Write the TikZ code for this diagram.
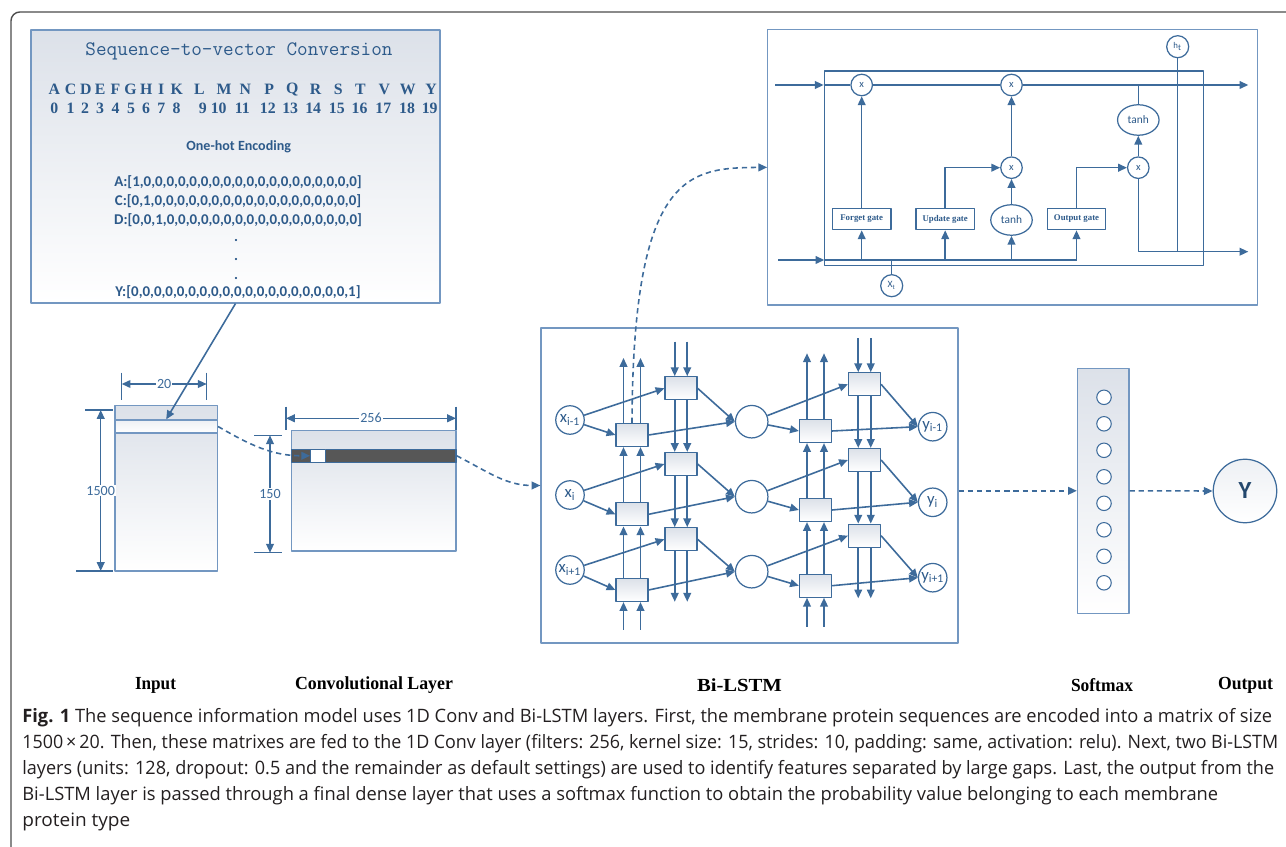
\documentclass[tikz,border=0pt]{standalone}
\usepackage{fontspec}
\setmainfont{Liberation Serif}
\newfontfamily\calfont{Carlito}
\newfontfamily\capfont{Open Sans}
\usetikzlibrary{arrows.meta, positioning, shapes.geometric}

\definecolor{lineblue}{HTML}{3D6B9B}
\definecolor{boxblue}{HTML}{7397C1}
\definecolor{txtblue}{HTML}{2D5A8A}
\definecolor{shadegray}{HTML}{DCE1E9}
\definecolor{capgray}{HTML}{231F20}

\newcommand{\fs}[1]{\fontsize{#1}{#1}\selectfont}
\newcommand{\capline}[2]{\resizebox{#1}{\height}{#2}}

\tikzset{
  wire/.style={draw=lineblue, line width=0.9pt},
  flow/.style={draw=lineblue, line width=0.9pt, dash pattern=on 3pt off 2.2pt},
  dimline/.style={draw=lineblue, line width=0.8pt},
  panel/.style={rectangle, draw=boxblue, line width=0.7pt, inner sep=0pt},
  cellbox/.style={rectangle, draw=lineblue, line width=0.7pt, top color=shadegray, bottom color=white, minimum width=0.64cm, minimum height=0.46cm, inner sep=0pt},
  iocircle/.style={circle, draw=lineblue, line width=0.7pt, fill=white, minimum size=0.57cm, inner sep=0pt, text=txtblue, font=\calfont\fs{9.5}},
  mulnode/.style={circle, draw=lineblue, line width=0.7pt, fill=white, minimum size=0.43cm, inner sep=0pt, text=txtblue, font=\calfont\fs{6}},
  gatebox/.style={rectangle, draw=lineblue, line width=0.7pt, fill=white, minimum width=1.17cm, minimum height=0.43cm, inner sep=0pt, text=txtblue, font=\bfseries\fs{5}},
  tanhnode/.style={ellipse, draw=lineblue, line width=0.7pt, fill=white, minimum width=0.83cm, minimum height=0.61cm, inner sep=0pt, text=txtblue, font=\calfont\fs{6.5}},
  dimlabel/.style={fill=white, inner sep=0.6pt, text=lineblue, font=\calfont\fs{8}},
  aminolabel/.style={inner sep=0pt, text=txtblue, font=\bfseries\fs{9}},
  enctext/.style={inner sep=0pt, text=txtblue, font=\calfont\bfseries\fs{8.5}},
  captext/.style={anchor=base west, inner sep=0pt, text=capgray, font=\capfont\fs{10.5}},
  layerlabel/.style={inner sep=0pt, font=\bfseries\fs{10.5}},
}

\begin{document}
\begin{tikzpicture}[x=0.02cm, y=-0.02cm, >={Triangle[length=5pt,width=4.4pt]}, line join=round]
\useasboundingbox (0,0) rectangle (1286,847);

% Frame
\draw[line width=0.8pt, draw=black!70, rounded corners=5pt] (11,870) -- (11,12) -- (1300,12);

% Sequence-to-vector box
\node[panel, top color=shadegray, bottom color=white, minimum width=8.18cm, minimum height=5.46cm] (seqbox) at (235.5,166.5) {};
\node[inner sep=0pt, text=txtblue, font=\ttfamily\fs{11.7}] (seqtitle) at (239,51.4) {Sequence-to-vector Conversion};
\foreach \lab/\idx/\xa/\xn in {A/0/54.4/54.4, C/1/70.6/70.6, D/2/85.9/85.2, E/3/100.1/100.1,
    F/4/115.4/115.7, G/5/130.6/131, H/6/146.2/146.2, I/7/161.1/161.4, K/8/176.7/176.7,
    L/9/199.4/202.8, M/10/224.1/218.7, N/11/245.4/242.4, P/12/269.2/267.8, Q/13/292.2/290.2,
    R/14/315.6/313.2, S/15/338.3/336.9, T/16/360.3/359.6, V/17/384.3/383.3, W/18/407.7/407,
    Y/19/431.1/429.7}{
  \node[aminolabel] (aa-\idx) at (\xa,89.4) {\lab};
  \node[aminolabel] (num-\idx) at (\xn,108.7) {\idx};
}
\node[enctext, font=\calfont\bfseries\fs{8}] (onehot) at (238.7,147) {One-hot Encoding};
\node[enctext] (encA) at (238,181.8) {A:[1,0,0,0,0,0,0,0,0,0,0,0,0,0,0,0,0,0,0,0]};
\node[enctext] (encC) at (238,201) {C:[0,1,0,0,0,0,0,0,0,0,0,0,0,0,0,0,0,0,0,0]};
\node[enctext] (encD) at (238,220.5) {D:[0,0,1,0,0,0,0,0,0,0,0,0,0,0,0,0,0,0,0,0]};
\foreach \k/\yy in {1/242, 2/261, 3/280}
  \node[enctext, anchor=base] (dot-\k) at (236,\yy) {.};
\node[enctext] (encY) at (238,292.6) {Y:[0,0,0,0,0,0,0,0,0,0,0,0,0,0,0,0,0,0,0,1]};

% Input matrix
\node[panel, top color=shadegray, bottom color=white, minimum width=2.05cm, minimum height=3.31cm] (inmat) at (166.2,488.3) {};
\node[panel, top color=shadegray!50, bottom color=white, minimum width=2.05cm, minimum height=0.26cm] (instrip) at (166.2,426.5) {};
\draw[wire,->] (seqbox.south) -- (instrip.north);

\coordinate (w20l) at (121.7,384);
\coordinate (w20r) at (206.7,384);
\draw[dimline] (121.7,372.7) -- (121.7,400) (206.7,372.7) -- (206.7,400);
\draw[dimline,<->] (w20l) -- node[dimlabel] (lab20) {20} (w20r);
\coordinate (h1500t) at (100.7,410);
\coordinate (h1500b) at (100.7,571);
\draw[dimline] (85,410) -- (112.7,410) (76,571) -- (112.7,571);
\draw[dimline,<->] (h1500t) -- node[dimlabel] (lab1500) {1500} (h1500b);

% Convolutional layer
\node[panel, top color=shadegray, bottom color=white, minimum width=3.29cm, minimum height=2.41cm] (convmat) at (373.85,490.85) {};
\node[rectangle, draw=lineblue, line width=0.7pt, fill=black!66, minimum width=3.29cm, minimum height=0.26cm, inner sep=0pt] (convstrip) at (373.85,455.8) {};
\node[rectangle, draw=lineblue, line width=0.7pt, fill=white, minimum width=0.3cm, minimum height=0.26cm, inner sep=0pt] (convcell) at (318.2,455.8) {};

\coordinate (w256l) at (286,418.3);
\coordinate (w256r) at (456,418.3);
\draw[dimline] (286,406.7) -- (286,430) (456,406.7) -- (456,430);
\draw[dimline,<->] (w256l) -- node[dimlabel] (lab256) {256} (w256r);
\coordinate (h150t) at (270,435.3);
\coordinate (h150b) at (270,552.7);
\draw[dimline] (254.3,435.3) -- (282.3,435.3) (254.3,552.7) -- (282.3,552.7);
\draw[dimline,<->] (h150t) -- node[dimlabel] (lab150) {150} (h150b);

\draw[flow,->] (instrip.east) to[out=-30,in=180] (convcell.west);

% Bi-LSTM
\node[panel, fill=white, minimum width=8.34cm, minimum height=6.3cm] (bilstm) at (749.5,485.5) {};
\draw[flow,->] (convstrip.east) to[out=-27,in=180] (bilstm.west);

\foreach \r/\sub/\yx/\yf/\yb/\ym/\yg/\yh/\yo in {1/i-1/420/435/388.3/421.7/431/384.3/426.7,
    2/i/495/514.3/464/496.7/510/460/502.3, 3/i+1/570/590/539.3/571.7/585.7/535.7/577.7}{
  \node[iocircle] (x-\r) at (570,\yx) {x\textsubscript{\sub}};
  \node[cellbox] (f1-\r) at (632,\yf) {};
  \node[cellbox] (b1-\r) at (681,\yb) {};
  \node[iocircle, minimum size=0.65cm] (m-\r) at (751.7,\ym) {};
  \node[cellbox] (f2-\r) at (815.5,\yg) {};
  \node[cellbox] (b2-\r) at (864.5,\yh) {};
  \node[iocircle] (y-\r) at (932.7,\yo) {y\textsubscript{\sub}};
}
\foreach \r in {1,2,3}{
  \draw[wire,->] (x-\r) -- (b1-\r.west);
  \draw[wire,->] (x-\r) -- (f1-\r.west);
  \draw[wire,->] (f1-\r.east) -- (m-\r.west);
  \draw[wire,->] (b1-\r.east) -- (m-\r.west);
  \draw[wire,->] (m-\r) -- (b2-\r.west);
  \draw[wire,->] (m-\r) -- (f2-\r.west);
  \draw[wire,->] (f2-\r.east) -- (y-\r.west);
  \draw[wire,->] (b2-\r.east) -- (y-\r.west);
}

\coordinate (f1bot) at (632,630);
\coordinate (f1top) at (632,358);
\coordinate (b1top) at (681,341.7);
\coordinate (b1bot) at (681,601.7);
\coordinate (f2bot) at (815.5,626.7);
\coordinate (f2top) at (815.5,353.3);
\coordinate (b2top) at (864.5,338.3);
\coordinate (b2bot) at (864.5,598.3);
\foreach \s in {-0.17cm,0.17cm}{
  \draw[wire,->] ([xshift=\s]f1bot) -- ([xshift=\s]f1-3.south);
  \draw[wire,->] ([xshift=\s]f1-3.north) -- ([xshift=\s]f1-2.south);
  \draw[wire,->] ([xshift=\s]f1-2.north) -- ([xshift=\s]f1-1.south);
  \draw[wire,->] ([xshift=\s]f1-1.north) -- ([xshift=\s]f1top);
  \draw[wire,->] ([xshift=\s]f2bot) -- ([xshift=\s]f2-3.south);
  \draw[wire,->] ([xshift=\s]f2-3.north) -- ([xshift=\s]f2-2.south);
  \draw[wire,->] ([xshift=\s]f2-2.north) -- ([xshift=\s]f2-1.south);
  \draw[wire,->] ([xshift=\s]f2-1.north) -- ([xshift=\s]f2top);
}
\foreach \s in {-0.125cm,0.125cm}{
  \draw[wire,->] ([xshift=\s]b1top) -- ([xshift=\s]b1-1.north);
  \draw[wire,->] ([xshift=\s]b1-1.south) -- ([xshift=\s]b1-2.north);
  \draw[wire,->] ([xshift=\s]b1-2.south) -- ([xshift=\s]b1-3.north);
  \draw[wire,->] ([xshift=\s]b1-3.south) -- ([xshift=\s]b1bot);
  \draw[wire,->] ([xshift=\s]b2top) -- ([xshift=\s]b2-1.north);
  \draw[wire,->] ([xshift=\s]b2-1.south) -- ([xshift=\s]b2-2.north);
  \draw[wire,->] ([xshift=\s]b2-2.south) -- ([xshift=\s]b2-3.north);
  \draw[wire,->] ([xshift=\s]b2-3.south) -- ([xshift=\s]b2bot);
}

% LSTM cell
\node[panel, fill=white, minimum width=9.79cm, minimum height=5.51cm] (cell) at (1012.5,167.35) {};
\node[rectangle, draw=lineblue, line width=0.8pt, minimum width=7.58cm, minimum height=3.89cm, inner sep=0pt] (cellin) at (1013.8,168.35) {};
\node[mulnode] (mf) at (861.7,85) {x};
\node[mulnode] (mu) at (1011.5,85) {x};
\node[mulnode] (mi) at (1011.5,167.7) {x};
\node[mulnode] (mo) at (1138.3,167.7) {x};
\node[tanhnode] (tc) at (1138.3,120) {tanh};
\node[tanhnode] (tu) at (1011.5,220) {tanh};
\node[gatebox] (gf) at (861.7,219) {Forget gate};
\node[gatebox] (gu) at (945.2,219) {Update gate};
\node[gatebox] (go) at (1076.5,219) {Output gate};
\node[mulnode, minimum size=0.44cm, font=\calfont\fs{5}] (ht) at (1177.7,46.7) {h\textsubscript{t}};
\node[mulnode, minimum size=0.44cm, font=\calfont\fs{5.5}] (xt) at (891.7,285.7) {X\textsubscript{t}};

\coordinate (cin) at (775,85);
\coordinate (cout) at (1248.3,85);
\coordinate (hin) at (778,260);
\coordinate (hbus) at (824.3,260);
\coordinate (hout) at (1248.3,251.7);

\draw[wire,->] (cin) -- (cin -| cellin.west);
\draw[wire] (cin -| cellin.west) -- (mf.west);
\draw[wire] (mf.east) -- (mu.west);
\draw[wire,->] (mu.east) -- (cout);
\draw[wire,->] (hin) -- (hbus);
\draw[wire] (hbus) -- (hbus -| go.south);
\foreach \g in {gf,gu,tu,go}
  \draw[wire,->] (hbus -| \g.south) -- (\g.south);
\draw[wire] (xt) -- (xt |- hbus);
\draw[wire,->] (gf) -- (mf);
\draw[wire,->] (gu.north) |- (mi.west);
\draw[wire,->] (tu) -- (mi);
\draw[wire,->] (mi) -- (mu);
\draw[wire,->] (go.north) |- (mo.west);
\draw[wire] (tc.north) -- (tc.north |- mu);
\draw[wire,->] (mo) -- (tc);
\draw[wire,->] (mo.south) |- (hout);
\draw[wire] (ht) -- (ht |- hout);

\draw[flow,->] (f1-1.north) .. controls (633,170) and (690,168) .. (cell.west);

% Softmax and output
\node[panel, top color=shadegray, bottom color=white, minimum width=1.03cm, minimum height=4.9cm] (soft) at (1103.2,490.8) {};
\foreach \k in {0,...,7}
  \node[circle, draw=lineblue, line width=0.6pt, fill=white, minimum size=0.29cm, inner sep=0pt] (s-\k) at (1104,{397.3+26.5*\k}) {};
\node[circle, draw=lineblue, line width=0.7pt, top color=shadegray!50, bottom color=white, minimum size=1.27cm, inner sep=0pt, text=txtblue!80!black, font=\calfont\bfseries\fs{14}] (outY) at (1245,491) {Y};
\draw[flow,->] (bilstm.east |- soft.west) -- (soft.west);
\draw[flow,->] (soft.east) -- (outY.west);

% Layer names
\node[layerlabel] (labIn) at (155.5,685) {\capline{0.82cm}{Input}};
\node[layerlabel] (labConv) at (374,685) {\capline{3.16cm}{Convolutional Layer}};
\node[layerlabel] (labBi) at (739.5,685) {\capline{1.7cm}{Bi-LSTM}};
\node[layerlabel] (labSoft) at (1102,685) {\capline{1.24cm}{Softmax}};
\node[layerlabel] (labOut) at (1245.5,685) {\capline{1.1cm}{Output}};

% Caption
\node[captext] (cap1) at (22,723) {\capline{25cm}{\textbf{Fig. 1} The sequence information model uses 1D Conv and Bi-LSTM layers. First, the membrane protein sequences are encoded into a matrix of size}};
\node[captext] (cap2) at (22,749) {\capline{25.12cm}{1500\,×\,20. Then, these matrixes are fed to the 1D Conv layer (filters: 256, kernel size: 15, strides: 10, padding: same, activation: relu). Next, two Bi-LSTM}};
\node[captext] (cap3) at (22,775) {\capline{25.04cm}{layers (units: 128, dropout: 0.5 and the remainder as default settings) are used to identify features separated by large gaps. Last, the output from the}};
\node[captext] (cap4) at (22,801) {\capline{23.92cm}{Bi-LSTM layer is passed through a final dense layer that uses a softmax function to obtain the probability value belonging to each membrane}};
\node[captext] (cap5) at (22,827) {\capline{2.16cm}{protein type}};
\end{tikzpicture}
\end{document}
